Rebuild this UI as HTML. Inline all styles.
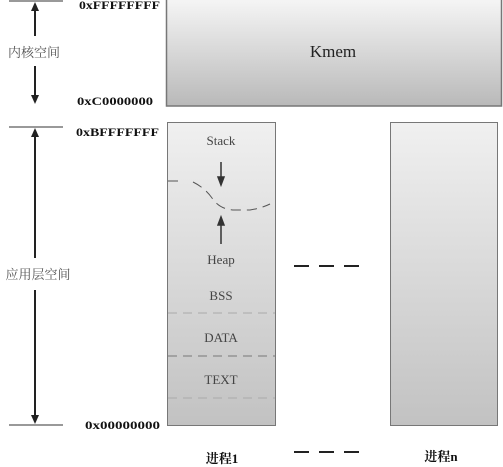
<!DOCTYPE html>
<html><head><meta charset="utf-8"><style>
html,body{margin:0;padding:0;background:#fff;}
svg{display:block;}
.c{font-family:"Liberation Serif","Noto Serif CJK SC",serif;}
</style></head><body>
<svg width="503" height="467" viewBox="0 0 503 467" xmlns="http://www.w3.org/2000/svg">
<defs>
<linearGradient id="g1" x1="0" y1="0" x2="0" y2="1"><stop offset="0" stop-color="#f6f6f6"/><stop offset="1" stop-color="#b9b9b9"/></linearGradient>
<linearGradient id="g2" x1="0" y1="0" x2="0" y2="1"><stop offset="0" stop-color="#f0f0f0"/><stop offset="1" stop-color="#c2c2c2"/></linearGradient>
</defs>
<rect x="166.5" y="-2" width="335" height="108" fill="url(#g1)" stroke="#777" stroke-width="1.5"/>
<text x="333" y="57" font-size="17" class="c" text-anchor="middle" fill="#222">Kmem</text>
<rect x="167.5" y="122.5" width="108" height="303" fill="url(#g2)" stroke="#777"/>
<rect x="390.5" y="122.5" width="107" height="303" fill="url(#g2)" stroke="#777"/>
<g stroke="#333" stroke-width="1">
<line x1="9" y1="1" x2="63" y2="1"/>
<line x1="9" y1="127" x2="63" y2="127"/>
<line x1="9" y1="425" x2="63" y2="425"/>
</g>
<g stroke="#222" stroke-width="2">
<line x1="35" y1="6" x2="35" y2="36"/>
<line x1="35" y1="66" x2="35" y2="98"/>
<line x1="35" y1="133" x2="35" y2="258"/>
<line x1="35" y1="290" x2="35" y2="418"/>
</g>
<g fill="#222">
<polygon points="35,2 31,11 39,11"/>
<polygon points="35,104 31,95 39,95"/>
<polygon points="35,128 31,137 39,137"/>
<polygon points="35,424 31,415 39,415"/>
</g>
<text x="34" y="57" font-size="13" class="c" text-anchor="middle" fill="#555">内核空间</text>
<text x="38" y="279" font-size="13" class="c" text-anchor="middle" fill="#555">应用层空间</text>
<g font-size="12" font-weight="bold" class="c" fill="#111">
<text x="79" y="9" textLength="81" lengthAdjust="spacingAndGlyphs">0xFFFFFFFF</text>
<text x="77" y="105" textLength="76" lengthAdjust="spacingAndGlyphs">0xC0000000</text>
<text x="76" y="136" textLength="83" lengthAdjust="spacingAndGlyphs">0xBFFFFFFF</text>
<text x="85" y="429" textLength="75" lengthAdjust="spacingAndGlyphs">0x00000000</text>
</g>
<g font-size="13" class="c" text-anchor="middle" fill="#444">
<text x="221" y="145">Stack</text>
<text x="221" y="264">Heap</text>
<text x="221" y="300">BSS</text>
<text x="221" y="342">DATA</text>
<text x="221" y="384">TEXT</text>
</g>
<g stroke="#333" stroke-width="1.5" fill="#333">
<line x1="221" y1="162" x2="221" y2="180"/>
<polygon points="221,185 218,177 224,177"/>
<line x1="221" y1="222" x2="221" y2="244"/>
<polygon points="221,217 218,225 224,225"/>
</g>
<path d="M168,181 L182,181 M193,182 Q205,188 212,198 Q220,210 235,210 L250,210 Q262,208 270,204" fill="none" stroke="#555" stroke-width="1" stroke-dasharray="10,6"/>
<g stroke="#aaa" stroke-width="1" stroke-dasharray="9,6">
<line x1="168" y1="313" x2="275" y2="313"/>
<line x1="168" y1="398" x2="275" y2="398"/>
</g>
<line x1="168" y1="356" x2="275" y2="356" stroke="#777" stroke-width="1" stroke-dasharray="9,6"/>
<g stroke="#222" stroke-width="2">
<line x1="294" y1="266" x2="309" y2="266"/><line x1="319" y1="266" x2="334" y2="266"/><line x1="344" y1="266" x2="359" y2="266"/>
<line x1="294" y1="452" x2="309" y2="452"/><line x1="319" y1="452" x2="334" y2="452"/><line x1="344" y1="452" x2="359" y2="452"/>
</g>
<g font-size="13" font-weight="bold" class="c" text-anchor="middle" fill="#111">
<text x="222" y="463">进程1</text>
<text x="441" y="461">进程n</text>
</g>
</svg>
</body></html>
